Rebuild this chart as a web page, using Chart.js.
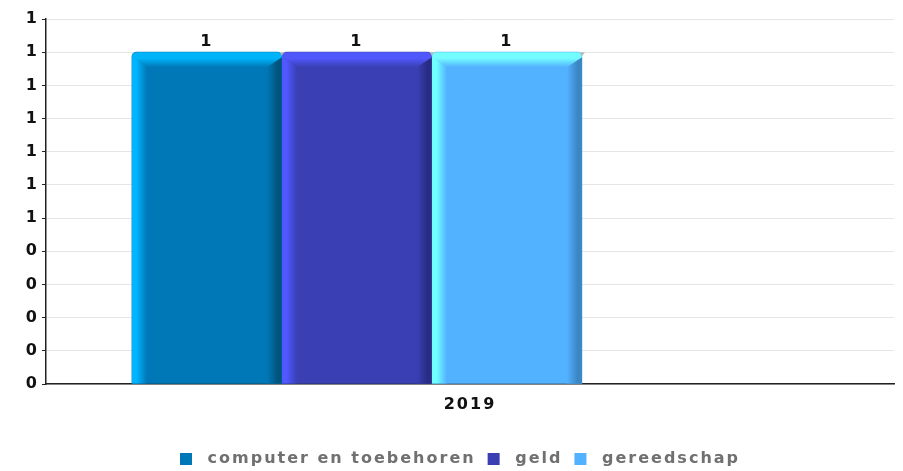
<!DOCTYPE html>
<html>
<head>
    <title>Categorie 2019</title>
    <script src="https://cdn.jsdelivr.net/npm/chart.js"></script>
    <style>
        html, body { margin: 0; padding: 0; background: #fff; }
        #chartContainer { width: 903px; height: 471px; }
    </style>
</head>
<body>
    <div id="chartContainer">
        <canvas id="myChart"></canvas>
    </div>
    <script>
    // data
    const categories = ['2019'];
    const seriesNames = ['computer en toebehoren', 'geld', 'gereedschap'];
    const computerValues = [1];
    const geldValues = [1];
    const gereedschapValues = [1];
    const yTicks = [0, 0.1, 0.2, 0.3, 0.4, 0.5, 0.6, 0.7, 0.8, 0.9, 1.0, 1.1];
    const yTickLabels = ['0', '0', '0', '0', '0', '1', '1', '1', '1', '1', '1', '1'];

    // the bars sit left of the category label, so they get their own hidden slot axis
    const barSlots = ['', '', '', '', '', '2019', '', '', '', '', '', '', '', '', ''];

    // main / left light / top light / right dark
    const palette = [
        { main: '#0078b7', left: '#00b4ff', top: '#00b4fa', right: '#00557f' },
        { main: '#3a40b4', left: '#5058ff', top: '#5058fc', right: '#292c84' },
        { main: '#52b2ff', left: '#70ffff', top: '#74fcff', right: '#3c86c4' }
    ];

    const seriesValues = [computerValues, geldValues, gereedschapValues];
    const boldFont = { family: 'DejaVu Sans', size: 16, weight: 'bold' };

    const datasets = seriesNames.map((name, i) => ({
        label: name,
        data: categories.map((c, j) => ({ x: c, y: seriesValues[i][j] })),
        xAxisID: 'xb',
        backgroundColor: palette[i].main,
        borderWidth: 0,
        borderRadius: { topLeft: 5, topRight: 5 },
        borderSkipped: 'bottom',
        barThickness: 150
    }));

    const bevelPlugin = {
        id: 'bevel',
        beforeLayout(chart) {
            chart.ctx.letterSpacing = '2px';
        },
        afterDatasetsDraw(chart) {
            const ctx = chart.ctx;
            const d = 15;
            const r = 5;
            chart.data.datasets.forEach((ds, i) => {
                const meta = chart.getDatasetMeta(i);
                const pal = palette[i];
                meta.data.forEach((bar, j) => {
                    const x0 = bar.x - bar.width / 2;
                    const x1 = bar.x + bar.width / 2;
                    const top = bar.y;
                    const bottom = bar.base;
                    ctx.save();

                    // left light strip
                    let g = ctx.createLinearGradient(x0, 0, x0 + d, 0);
                    g.addColorStop(0, pal.left);
                    g.addColorStop(0.3, pal.left);
                    g.addColorStop(1, pal.main);
                    ctx.fillStyle = g;
                    ctx.fillRect(x0, top + r, d, bottom - top - r);

                    // right dark strip
                    g = ctx.createLinearGradient(x1 - d, 0, x1, 0);
                    g.addColorStop(0, pal.main);
                    g.addColorStop(0.7, pal.right);
                    g.addColorStop(1, pal.right);
                    ctx.fillStyle = g;
                    ctx.fillRect(x1 - d, top + r, d, bottom - top - r);

                    // top bevel
                    g = ctx.createLinearGradient(0, top, 0, top + d);
                    g.addColorStop(0, pal.top);
                    g.addColorStop(0.4, pal.top);
                    g.addColorStop(1, pal.main);
                    ctx.fillStyle = g;
                    ctx.beginPath();
                    ctx.moveTo(x0, top + r);
                    ctx.quadraticCurveTo(x0, top, x0 + r, top);
                    ctx.lineTo(x1 - r, top);
                    ctx.quadraticCurveTo(x1, top, x1, top + r);
                    ctx.lineTo(x1 - d, top + d);
                    ctx.lineTo(x0 + d, top + d);
                    ctx.closePath();
                    ctx.fill();

                    // small grey corner shadow
                    ctx.fillStyle = '#b8b8b8';
                    ctx.beginPath();
                    ctx.moveTo(x1 - 2, top);
                    ctx.lineTo(x1 + 3, top);
                    ctx.lineTo(x1, top + 4);
                    ctx.closePath();
                    ctx.fill();

                    // value label
                    ctx.fillStyle = '#111';
                    ctx.font = 'bold 16px "DejaVu Sans"';
                    ctx.textAlign = 'center';
                    ctx.textBaseline = 'bottom';
                    ctx.fillText(String(ds.data[j].y), bar.x, top - 2);
                    ctx.restore();
                });
            });
        }
    };

    const ctx = document.getElementById('myChart').getContext('2d');
    const myChart = new Chart(ctx, {
        type: 'bar',
        data: { datasets: datasets },
        options: {
            responsive: true,
            maintainAspectRatio: false,
            animation: false,
            layout: { padding: { top: 19, right: 9, bottom: -6, left: 26 } },
            plugins: {
                tooltip: { enabled: false },
                legend: {
                    position: 'bottom',
                    labels: {
                        boxWidth: 12,
                        boxHeight: 12,
                        padding: 12,
                        color: '#707070',
                        font: boldFont,
                        generateLabels: chart => Chart.defaults.plugins.legend.labels.generateLabels(chart)
                            .map(item => Object.assign(item, { text: ' ' + item.text }))
                    }
                }
            },
            scales: {
                x: {
                    type: 'category',
                    labels: categories,
                    offset: true,
                    grid: { display: false, drawTicks: false },
                    border: { color: '#222', width: 1.5 },
                    afterFit: s => { s.height = 55; },
                    ticks: {
                        padding: 11,
                        color: '#111',
                        font: boldFont
                    }
                },
                xb: {
                    type: 'category',
                    labels: barSlots,
                    offset: true,
                    display: false
                },
                y: {
                    min: 0,
                    max: 1.1,
                    afterBuildTicks: s => { s.ticks = yTicks.map(v => ({ value: v })); },
                    afterFit: s => { s.width = 20; },
                    grid: { color: '#e6e6e6', tickColor: '#222', tickLength: 4 },
                    border: { color: '#222', width: 1.5 },
                    ticks: {
                        padding: 3,
                        color: '#111',
                        font: boldFont,
                        callback: (v, i) => yTickLabels[i]
                    }
                }
            }
        },
        plugins: [bevelPlugin]
    });
    </script>
</body>
</html>
